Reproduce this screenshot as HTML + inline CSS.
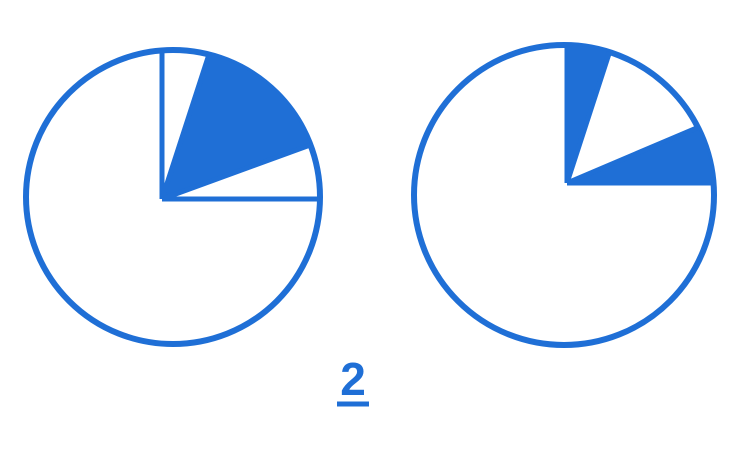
<!DOCTYPE html>
<html>
<head>
<meta charset="utf-8">
<style>
  html,body{margin:0;padding:0;background:#fff;}
  svg{display:block;}
</style>
</head>
<body>
<svg id="chart" width="750" height="450" viewBox="0 0 750 450">
  <g id="left"></g>
  <g id="right"></g>
  <text x="353" y="395" font-family="Liberation Sans, sans-serif" font-size="46" font-weight="bold" fill="#1f6fd6" text-anchor="middle">2</text>
  <line x1="337" y1="404" x2="369" y2="404" stroke="#1f6fd6" stroke-width="5"/>
</svg>
<script>
// Angles in degrees, clockwise from 12 o'clock
const leftRadii = [0, 18, 70, 90];      // radius lines of the left pie
const leftFilled = [[18, 70]];          // filled sectors of the left pie
const rightRadii = [0, 18, 67, 90];     // radius lines of the right pie
const rightFilled = [[0, 18], [67, 90]];// filled sectors of the right pie

const COLOR = '#1f6fd6';
const NS = 'http://www.w3.org/2000/svg';

function drawPie(g, cx, cy, r, vx, vy, radii, filled, prefix){
  const circle = document.createElementNS(NS, 'circle');
  circle.setAttribute('cx', cx); circle.setAttribute('cy', cy); circle.setAttribute('r', r);
  circle.setAttribute('fill', 'none'); circle.setAttribute('stroke', COLOR); circle.setAttribute('stroke-width', 6);
  
  
  g.appendChild(circle);
  function hit(a){
    const t = a * Math.PI / 180, dx = Math.sin(t), dy = -Math.cos(t);
    const ox = vx - cx, oy = vy - cy;
    const b = ox*dx + oy*dy, c = ox*ox + oy*oy - r*r;
    const s = -b + Math.sqrt(b*b - c);
    return [vx + s*dx, vy + s*dy];
  }
  filled.forEach(function(f, i){
    const p1 = hit(f[0]), p2 = hit(f[1]);
    const path = document.createElementNS(NS, 'path');
    path.setAttribute('d', 'M' + vx + ',' + vy + ' L' + p1[0] + ',' + p1[1] +
      ' A' + r + ',' + r + ' 0 0 1 ' + p2[0] + ',' + p2[1] + ' Z');
    path.setAttribute('fill', COLOR);
    
    
    g.appendChild(path);
  });
  radii.forEach(function(a, i){
    const p = hit(a);
    const ln = document.createElementNS(NS, 'line');
    ln.setAttribute('x1', vx); ln.setAttribute('y1', vy);
    ln.setAttribute('x2', p[0]); ln.setAttribute('y2', p[1]);
    ln.setAttribute('stroke', COLOR); ln.setAttribute('stroke-width', 5);
    
    
    g.appendChild(ln);
  });
}

drawPie(document.getElementById('left'), 173, 197, 147, 162, 199, leftRadii, leftFilled, 'left');
drawPie(document.getElementById('right'), 564, 195, 150, 567, 183, rightRadii, rightFilled, 'right');
</script>
</body>
</html>
